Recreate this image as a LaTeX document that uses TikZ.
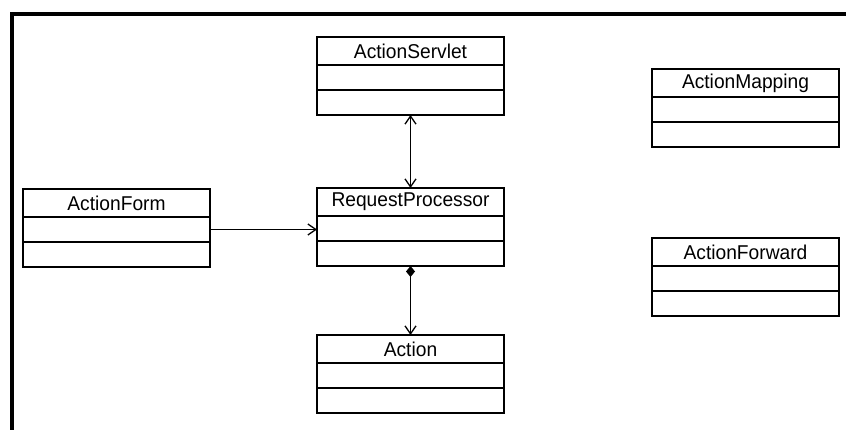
\documentclass[tikz,border=0pt]{standalone}
\usepackage{fontspec}
\setmainfont{Liberation Sans}[FakeStretch=0.96]
\usetikzlibrary{arrows.meta, positioning}

\begin{document}
\begin{tikzpicture}[x=1pt, y=-1pt,
  >={Straight Barb[length=8pt, width=11pt]},
  classname/.style={draw, line width=1.3pt, outer sep=0pt, inner sep=0pt,
                    minimum width=187pt, minimum height=28pt,
                    font=\fontsize{20}{24}\selectfont},
  classpart/.style={draw, line width=1.3pt, outer sep=0pt, inner sep=0pt,
                    minimum width=187pt, minimum height=25pt},
  link/.style={line width=1.3pt}]
  \useasboundingbox (0,0) rectangle (846,430);

  % Frame
  \draw[line width=4pt] (12,430) -- (12,14) -- (846,14);

  % Classes
  \foreach \n/\x/\y/\t in {servlet/410.5/51/ActionServlet,
                           proc/410.5/202/RequestProcessor,
                           action/410.5/349/Action,
                           form/116.5/203/ActionForm,
                           mapping/745.5/83/ActionMapping,
                           forward/745.5/252/ActionForward} {
    \node[classname] (\n) at (\x,\y) {\t};
    \node[classpart, below=0pt of \n] (\n-a) {};
    \node[classpart, below=0pt of \n-a] (\n-o) {};
  }

  % Associations
  \draw[link, <->] (servlet-o.south) -- (proc.north);
  \draw[link, ->] (form-a.east) -- (form-a.east -| proc-a.west);
  \draw[link, {Diamond[length=11pt, width=9pt]}->] (proc-o.south) -- (action.north);
\end{tikzpicture}
\end{document}
